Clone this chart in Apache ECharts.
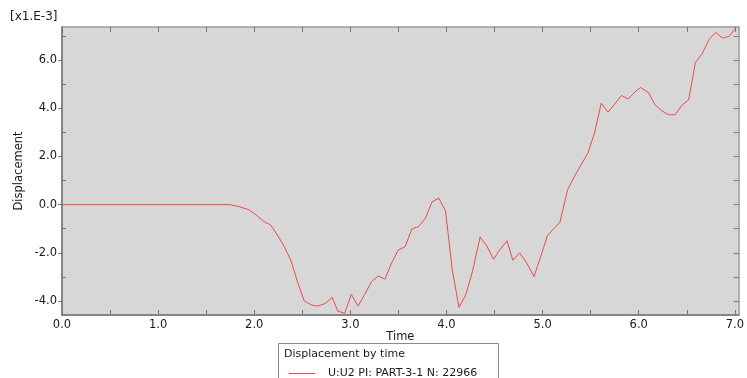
<!DOCTYPE html>
<html>
<head>
<meta charset="utf-8">
<script src="https://cdn.jsdelivr.net/npm/echarts@6/dist/echarts.min.js"></script>
<style>
  html, body { margin: 0; padding: 0; background: #fff; }
  #chart { width: 747px; height: 378px; }
</style>
</head>
<body>
<div id="chart"></div>
<script>
// time (s) and U2 displacement (x1.E-3)
const times = [
  0, 0.5, 1.0, 1.5, 1.74, 1.84, 1.95, 2.02, 2.10, 2.17, 2.24, 2.31, 2.38, 2.45,
  2.52, 2.60, 2.66, 2.74, 2.81, 2.87, 2.94, 3.01, 3.08, 3.15, 3.22, 3.29, 3.36,
  3.43, 3.50, 3.57, 3.64, 3.71, 3.78, 3.85, 3.92, 3.99, 4.06, 4.13, 4.20, 4.27,
  4.35, 4.42, 4.49, 4.55, 4.63, 4.69, 4.76, 4.83, 4.91, 4.98, 5.05, 5.12, 5.18,
  5.26, 5.33, 5.40, 5.47, 5.54, 5.61, 5.68, 5.75, 5.82, 5.89, 5.96, 6.02, 6.10,
  6.17, 6.24, 6.31, 6.38, 6.45, 6.52, 6.59, 6.66, 6.73, 6.80, 6.87, 6.94, 7.01
]
const displacement = [
  0, 0, 0, 0, 0, -0.08, -0.22, -0.43, -0.70, -0.84, -1.26, -1.72, -2.30, -3.20,
  -4.00, -4.17, -4.21, -4.10, -3.85, -4.42, -4.51, -3.72, -4.21, -3.72, -3.20, -2.96, -3.09,
  -2.41, -1.88, -1.74, -1.01, -0.91, -0.57, 0.12, 0.27, -0.26, -2.71, -4.26, -3.75, -2.78,
  -1.35, -1.72, -2.27, -1.90, -1.50, -2.31, -2.00, -2.39, -2.99, -2.16, -1.29, -0.98, -0.73,
  0.61, 1.16, 1.65, 2.13, 2.97, 4.21, 3.84, 4.17, 4.53, 4.38, 4.67, 4.86, 4.65,
  4.14, 3.89, 3.73, 3.73, 4.13, 4.35, 5.90, 6.26, 6.84, 7.15, 6.91, 6.98, 7.33
]

const xLabels = [0, 1, 2, 3, 4, 5, 6, 7]
const xTicks = [0, 0.5, 1, 1.5, 2, 2.5, 3, 3.5, 4, 4.5, 5, 5.5, 6, 6.5, 7]
const yLabels = [-4, -2, 0, 2, 4, 6]
const yMinorTicks = [-3, -1, 1, 3, 5, 7]
const yAllTicks = [-4, -3, -2, -1, 0, 1, 2, 3, 4, 5, 6, 7]

const xMin = 0, xMax = 7.04
const yMin = -4.58, yMax = 7.37

const font = 'DejaVu Sans'
const txt = '#1a1a1a'
const seriesName = 'U:U2 PI: PART-3-1 N: 22966'

const chart = echarts.init(document.getElementById('chart'))

const hiddenAxis = {
  axisLabel: { show: false },
  splitLine: { show: false }
}

chart.setOption({
  animation: false,
  textStyle: { fontFamily: font },
  grid: {
    left: 62, top: 27, right: 5, bottom: 63,
    show: true, backgroundColor: '#d7d7d7', borderWidth: 0
  },
  xAxis: [
    {
      type: 'value', min: xMin, max: xMax,
      name: 'Time', nameLocation: 'middle', nameGap: 16, nameMoveOverlap: false,
      nameTextStyle: { color: txt, fontSize: 11.5, fontFamily: font },
      axisLine: { onZero: false, lineStyle: { color: '#858585', width: 2 } },
      axisTick: { inside: true, length: 5, customValues: xTicks, lineStyle: { color: '#777' } },
      axisLabel: {
        customValues: xLabels, color: txt, fontSize: 11.5, margin: 4,
        formatter: v => v.toFixed(1)
      },
      splitLine: { show: false }
    },
    {
      type: 'value', min: xMin, max: xMax, position: 'top',
      axisLine: { onZero: false, lineStyle: { color: '#9a9a9a', width: 1.5 } },
      axisTick: { inside: true, length: 5, customValues: xTicks, lineStyle: { color: '#777' } },
      ...hiddenAxis
    }
  ],
  yAxis: [
    {
      type: 'value', min: yMin, max: yMax,
      name: 'Displacement', nameLocation: 'middle', nameGap: 37, nameRotate: 90,
      nameMoveOverlap: false,
      nameTextStyle: { color: txt, fontSize: 11.5, fontFamily: font },
      axisLine: { show: true, onZero: false, lineStyle: { color: '#858585', width: 2 } },
      axisTick: { show: true, length: 4, customValues: yLabels, lineStyle: { color: '#777' } },
      axisLabel: {
        customValues: yLabels, color: txt, fontSize: 11.5, margin: 5,
        formatter: v => v.toFixed(1)
      },
      splitLine: { show: false }
    },
    {
      type: 'value', min: yMin, max: yMax, position: 'left',
      axisLine: { show: false, onZero: false },
      axisTick: { show: true, inside: true, length: 4, customValues: yMinorTicks, lineStyle: { color: '#777' } },
      ...hiddenAxis
    },
    {
      type: 'value', min: yMin, max: yMax, position: 'right',
      axisLine: { show: true, onZero: false, lineStyle: { color: '#9a9a9a', width: 1.5 } },
      axisTick: { show: true, inside: true, length: 5, customValues: yAllTicks, lineStyle: { color: '#777' } },
      ...hiddenAxis
    }
  ],
  legend: {
    left: 284, top: 363,
    icon: 'rect', itemWidth: 26, itemHeight: 1,
    textStyle: { color: txt, fontSize: 11, fontFamily: font, padding: [0, 0, 0, 8] },
    data: [seriesName]
  },
  graphic: [
    {
      type: 'text', left: 10, top: 11,
      style: { text: '[x1.E-3]', fill: txt, font: '12px "DejaVu Sans"' }
    },
    {
      type: 'rect', left: 278, top: 343, z: -1,
      shape: { width: 220, height: 40 },
      style: { fill: '#fff', stroke: '#8a8a8a', lineWidth: 1 }
    },
    {
      type: 'text', left: 284, top: 349,
      style: { text: 'Displacement by time', fill: txt, font: '11px "DejaVu Sans"' }
    }
  ],
  series: [{
    name: seriesName,
    type: 'line',
    showSymbol: false,
    data: times.map((t, i) => [t, displacement[i]]),
    lineStyle: { color: '#f04848', width: 1 },
    itemStyle: { color: '#f04848' }
  }]
})
</script>
</body>
</html>
